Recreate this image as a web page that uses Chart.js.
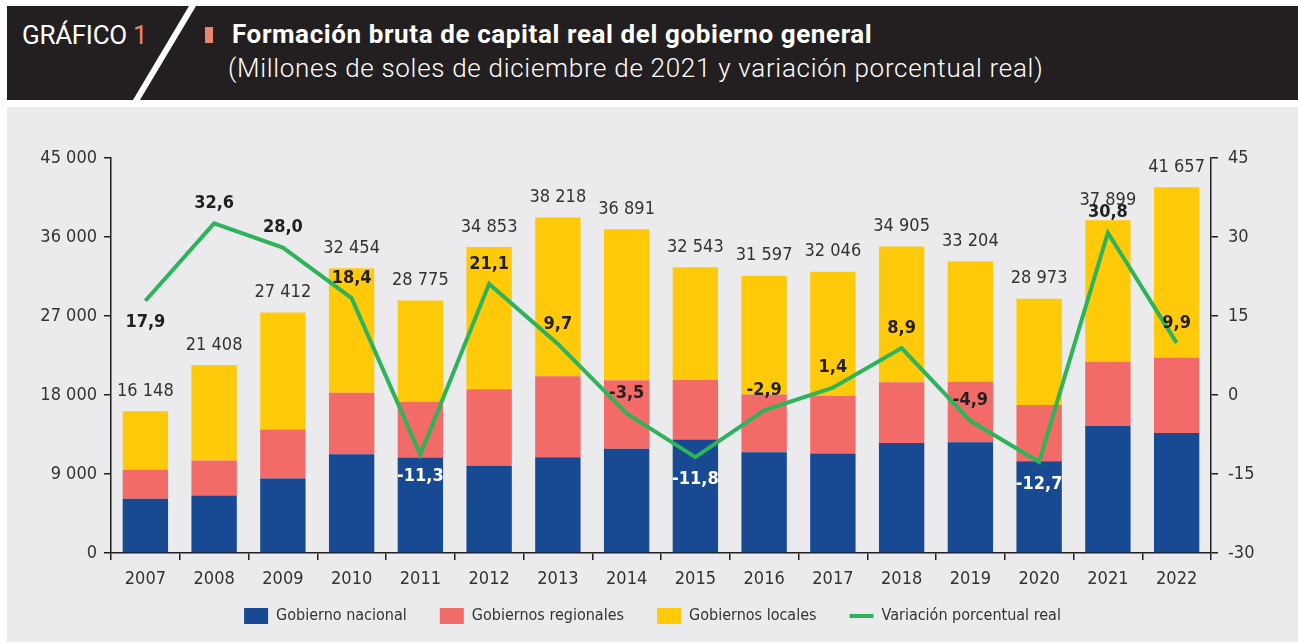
<!DOCTYPE html>
<html lang="es">
<head>
<meta charset="utf-8">
<title>Formación bruta de capital real del gobierno general</title>
<script src="https://cdn.jsdelivr.net/npm/chart.js@4.4.1/dist/chart.umd.min.js"></script>
<style>
    html, body { margin: 0; padding: 0; background: #fff; }
    body { width: 1298px; height: 642px; position: relative; overflow: hidden; font-family: Roboto, sans-serif; }
    .header { position: absolute; left: 7px; top: 6px; width: 1291px; height: 94px; background: #231f20; overflow: hidden; }
    .grafico { position: absolute; left: 15px; top: 14px; font-size: 26px; color: #fff; letter-spacing: -0.3px; }
    .grafico span { color: #e8876a; }
    .slash { position: absolute; left: 182px; top: 0; width: 7px; height: 94px; background: #fff; transform: skewX(-30.8deg); transform-origin: top left; }
    .mark { position: absolute; left: 198px; top: 21px; width: 8px; height: 16px; background: #e8876a; }
    .title { position: absolute; left: 225px; top: 15px; font-size: 26px; line-height: 26px; font-weight: 700; color: #fff; letter-spacing: 0.6px; white-space: nowrap; }
    .subtitle { position: absolute; left: 221px; top: 49px; font-size: 26px; line-height: 26px; font-weight: 300; color: #fff; letter-spacing: 0.7px; white-space: nowrap; }
    .chart-box { position: absolute; left: 7px; top: 107px; width: 1291px; height: 535px; background: #ebebed; }
</style>
</head>
<body>
<div class="header">
    <div class="grafico">GRÁFICO <span>1</span></div>
    <div class="slash"></div>
    <div class="mark"></div>
    <div class="title">Formación bruta de capital real del gobierno general</div>
    <div class="subtitle">(Millones de soles de diciembre de 2021 y variación porcentual real)</div>
</div>
<div class="chart-box">
    <canvas id="fbkChart" width="1291" height="535"></canvas>
</div>
<script>
// Datos
const years = ['2007', '2008', '2009', '2010', '2011', '2012', '2013', '2014',
               '2015', '2016', '2017', '2018', '2019', '2020', '2021', '2022'];
const gobiernoNacional = [6170, 6540, 8490, 11260, 10880, 9940, 10920, 11880,
                          12940, 11490, 11340, 12520, 12630, 10460, 14460, 13660];
const gobiernosRegionales = [3310, 4000, 5590, 7010, 6320, 8710, 9220, 7800,
                             6780, 6560, 6550, 6930, 6850, 6400, 7310, 8570];
const gobiernosLocales = [6668, 10868, 13332, 14184, 11575, 16203, 18078, 17211,
                          12823, 13547, 14156, 15455, 13724, 12113, 16129, 19427];
const totales = [16148, 21408, 27412, 32454, 28775, 34853, 38218, 36891,
                 32543, 31597, 32046, 34905, 33204, 28973, 37899, 41657];
const variacion = [17.9, 32.6, 28.0, 18.4, -11.3, 21.1, 9.7, -3.5,
                   -11.8, -2.9, 1.4, 8.9, -4.9, -12.7, 30.8, 9.9];
// where each percent label sits relative to its point
const pctLabelSide = ['below', 'above', 'above', 'above', 'below', 'above', 'above', 'above',
                      'below', 'above', 'above', 'above', 'above', 'below', 'above', 'above'];

const FONT = '"Liberation Sans Narrow", "DejaVu Sans Condensed", Roboto, sans-serif';
const TEXT = '#333333';
const AXIS = '#231f20';

function formatMiles(n) {
    return String(n).replace(/\B(?=(\d{3})+(?!\d))/g, ' ');
}

function formatPct(v) {
    return v.toFixed(1).replace('.', ',');
}

// Draw totals above the bars and percent labels next to the line
const valueLabels = {
    id: 'valueLabels',
    afterDatasetsDraw(chart) {
        const ctx = chart.ctx;
        const topMeta = chart.getDatasetMeta(2);
        const lineMeta = chart.getDatasetMeta(3);
        ctx.save();
        ctx.textAlign = 'center';
        ctx.textBaseline = 'middle';

        ctx.font = '18px ' + FONT;
        ctx.fillStyle = TEXT;
        topMeta.data.forEach((bar, i) => {
            ctx.fillText(formatMiles(totales[i]), bar.x, bar.y - 20);
        });

        ctx.font = 'bold 18px ' + FONT;
        lineMeta.data.forEach((pt, i) => {
            const below = pctLabelSide[i] === 'below';
            ctx.fillStyle = (below && variacion[i] < -10) ? '#ffffff' : AXIS;
            ctx.fillText(formatPct(variacion[i]), pt.x, pt.y + (below ? 22 : -20));
        });
        ctx.restore();
    }
};

// Legend padding is large (wide gaps between items), so lift the box back up
const legendLift = {
    id: 'legendLift',
    afterLayout(chart) {
        const legend = chart.legend;
        legend.top -= 18;
        legend.bottom -= 18;
    }
};

const ctx = document.getElementById('fbkChart').getContext('2d');
const chart = new Chart(ctx, {
    type: 'bar',
    data: {
        labels: years,
        datasets: [
            {
                label: 'Gobierno nacional',
                data: gobiernoNacional,
                backgroundColor: '#174a93',
                pointStyle: 'rect',
                yAxisID: 'y',
                order: 1
            },
            {
                label: 'Gobiernos regionales',
                data: gobiernosRegionales,
                backgroundColor: '#f26b68',
                pointStyle: 'rect',
                yAxisID: 'y',
                order: 1
            },
            {
                label: 'Gobiernos locales',
                data: gobiernosLocales,
                backgroundColor: '#ffca0a',
                pointStyle: 'rect',
                yAxisID: 'y',
                order: 1
            },
            {
                type: 'line',
                label: 'Variación porcentual real',
                data: variacion,
                borderColor: '#2db35a',
                backgroundColor: '#2db35a',
                borderWidth: 4,
                pointRadius: 0,
                pointStyle: 'line',
                tension: 0,
                yAxisID: 'y1',
                order: 0
            }
        ]
    },
    options: {
        responsive: false,
        animation: false,
        datasets: {
            bar: {
                categoryPercentage: 1,
                barPercentage: 0.66,
                borderWidth: 0
            }
        },
        layout: {
            padding: { top: 51, bottom: -10, left: 0, right: 0 }
        },
        plugins: {
            tooltip: { enabled: false },
            legend: {
                position: 'bottom',
                labels: {
                    sort: (a, b) => a.datasetIndex - b.datasetIndex,
                    usePointStyle: true,
                    pointStyleWidth: 24,
                    boxHeight: 16,
                    padding: 33,
                    color: TEXT,
                    font: { family: FONT, size: 16 }
                }
            }
        },
        scales: {
            x: {
                stacked: true,
                afterFit: (scale) => { scale.height = 40; },
                grid: {
                    display: true,
                    drawOnChartArea: false,
                    drawTicks: true,
                    offset: true,
                    tickLength: 7,
                    color: AXIS,
                    lineWidth: 1.5
                },
                border: { color: AXIS, width: 1.5 },
                ticks: {
                    color: TEXT,
                    padding: 9,
                    font: { family: FONT, size: 18 }
                }
            },
            y: {
                position: 'left',
                stacked: true,
                min: 0,
                max: 45000,
                afterFit: (scale) => { scale.width = 104; },
                grid: {
                    drawOnChartArea: false,
                    drawTicks: true,
                    tickLength: 7,
                    color: AXIS,
                    lineWidth: 1.5
                },
                border: { color: AXIS, width: 1.5 },
                ticks: {
                    stepSize: 9000,
                    color: TEXT,
                    padding: 7,
                    font: { family: FONT, size: 18 },
                    callback: (value) => formatMiles(value)
                }
            },
            y1: {
                position: 'right',
                min: -30,
                max: 45,
                afterFit: (scale) => { scale.width = 87; },
                grid: {
                    drawOnChartArea: false,
                    drawTicks: true,
                    tickLength: 7,
                    color: AXIS,
                    lineWidth: 1.5
                },
                border: { color: AXIS, width: 1.5 },
                ticks: {
                    stepSize: 15,
                    color: TEXT,
                    padding: 10,
                    font: { family: FONT, size: 18 }
                }
            }
        }
    },
    plugins: [valueLabels, legendLift]
});
</script>
</body>
</html>
